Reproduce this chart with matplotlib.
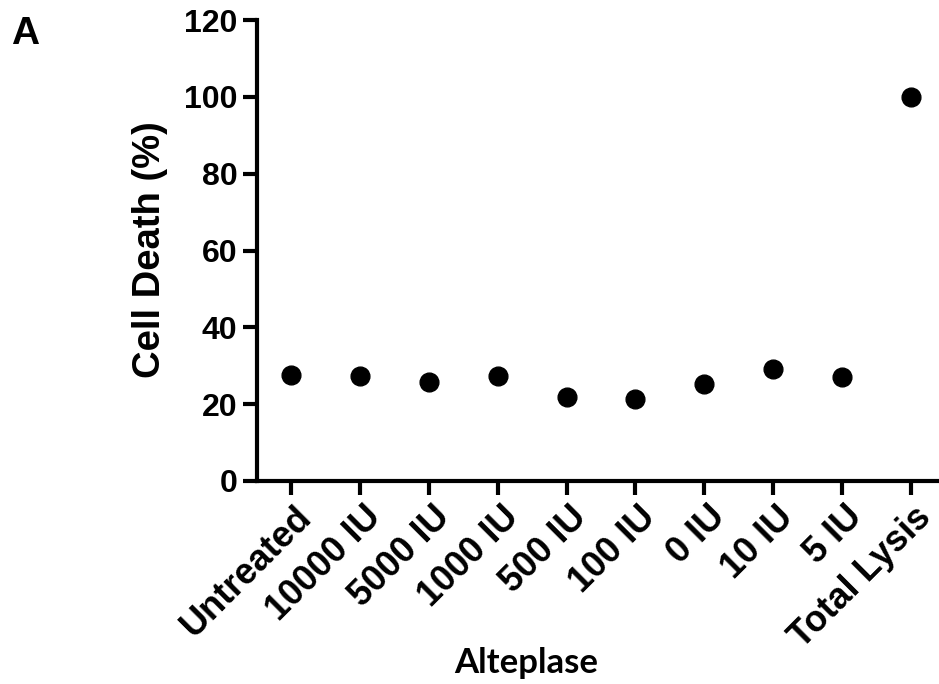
import matplotlib
matplotlib.use("Agg")
import matplotlib.pyplot as plt
import matplotlib.transforms as mtransforms

groups = ["Untreated", "10000 IU", "5000 IU", "1000 IU", "500 IU",
          "100 IU", "0 IU", "10 IU", "5 IU", "Total Lysis"]
cell_death = [27.6, 27.4, 25.7, 27.3, 21.9, 21.3, 25.2, 29.1, 27.0, 100.0]
y_ticks = [0, 20, 40, 60, 80, 100, 120]

plt.rcParams["font.family"] = ["Liberation Sans", "DejaVu Sans"]
plt.rcParams["font.weight"] = "bold"

fig = plt.figure(figsize=(9.39, 6.84), dpi=100)
ax = fig.add_axes([257 / 939, 203 / 684, 688 / 939, 461 / 684])

x = list(range(len(groups)))
ax.plot(x, cell_death, "o", color="black", markersize=13.5, clip_on=False)

ax.set_xlim(-0.5, len(groups) - 0.5)
ax.set_ylim(0, 120)
ax.set_yticks(y_ticks)
ax.set_xticks(x)
ax.set_xticklabels(groups, rotation=45, ha="right", va="top",
                   rotation_mode="anchor", fontsize=26, fontweight="bold",
                   family=["Liberation Sans", "DejaVu Sans"])
ax.tick_params(axis="y", labelsize=23, width=3, length=10, pad=4)
ax.tick_params(axis="x", width=3, length=10, pad=7)
for lab in ax.get_yticklabels():
    lab.set_fontweight("bold")

# nudge rotated labels a little right and up
shift = mtransforms.ScaledTranslation(3 / 100, 5 / 100, fig.dpi_scale_trans)
for lab in ax.get_xticklabels():
    lab.set_transform(lab.get_transform() + shift)

for side in ["top", "right"]:
    ax.spines[side].set_visible(False)
for side in ["left", "bottom"]:
    ax.spines[side].set_linewidth(3)

fig.text(150 / 939, 1 - 250 / 684, "Cell Death (%)", rotation=90,
         ha="center", va="center", fontsize=27.5, fontweight="bold")
fig.text(526 / 939, 1 - 663 / 684, "Alteplase", ha="center", va="center",
         fontsize=25, fontweight="bold", family=["Lato", "DejaVu Sans"])
fig.text(25 / 939, 1 - 34 / 684, "A", ha="center", va="center",
         fontsize=28, fontweight="bold")

fig.savefig("out.png", dpi=100)
